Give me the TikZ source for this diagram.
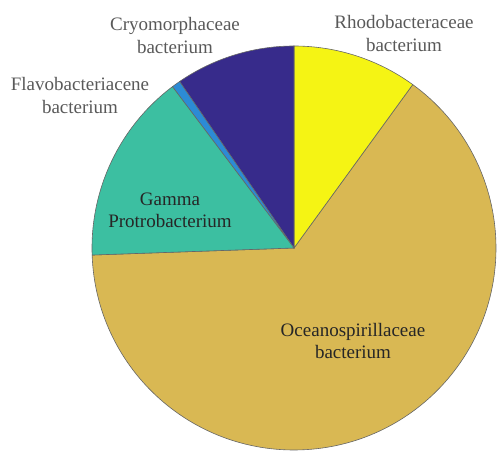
\documentclass[tikz,border=0pt]{standalone}
\usepackage{fontspec}
\setmainfont{LiberationSerif}[Extension=.ttf, UprightFont=*-Regular, BoldFont=*-Bold]
\definecolor{rhodocol}{HTML}{F5F414}
\definecolor{cryocol}{HTML}{372B8B}
\definecolor{flavocol}{HTML}{2C8BD5}
\definecolor{gammacol}{HTML}{3CBFA1}
\definecolor{oceancol}{HTML}{D9B853}
\begin{document}
\begin{tikzpicture}[
        x=1pt, y=1pt, % 1pt = 1 пиксель
        slice/.style = {draw=black!60, line width=0.6pt}, % Стиль секторов
        outlabel/.style = {align=center, inner sep=0pt, text=black!65, font=\rmfamily\fontsize{19}{23}\selectfont},
        inlabel/.style = {align=center, inner sep=0pt, text=black!85, font=\rmfamily\fontsize{19}{22}\selectfont},
    ]
    \useasboundingbox (0,0) rectangle (498,457);
    \coordinate (O) at (294,209); % центр круга

    \draw[slice, fill=oceancol] (O) -- ++(182:202pt) arc[start angle=182, end angle=414, radius=202pt] -- cycle;
    \draw[slice, fill=rhodocol] (O) -- ++(54:202pt) arc[start angle=54, end angle=90, radius=202pt] -- cycle;
    \draw[slice, fill=cryocol] (O) -- ++(90:202pt) arc[start angle=90, end angle=124.5, radius=202pt] -- cycle;
    \draw[slice, fill=flavocol] (O) -- ++(124.5:202pt) arc[start angle=124.5, end angle=127, radius=202pt] -- cycle;
    \draw[slice, fill=gammacol] (O) -- ++(127:202pt) arc[start angle=127, end angle=182, radius=202pt] -- cycle;

    \node[outlabel] (rhodo) at (404,423) {Rhodobacteraceae\\bacterium};
    \node[outlabel] (cryo) at (175,421) {Cryomorphaceae\\bacterium};
    \node[outlabel] (flavo) at (80,361) {Flavobacteriacene\\bacterium};
    \node[inlabel] (gamma) at (170,247) {Gamma\\Protrobacterium};
    \node[inlabel] (ocean) at (353,116) {Oceanospirillaceae\\bacterium};
\end{tikzpicture}
\end{document}
